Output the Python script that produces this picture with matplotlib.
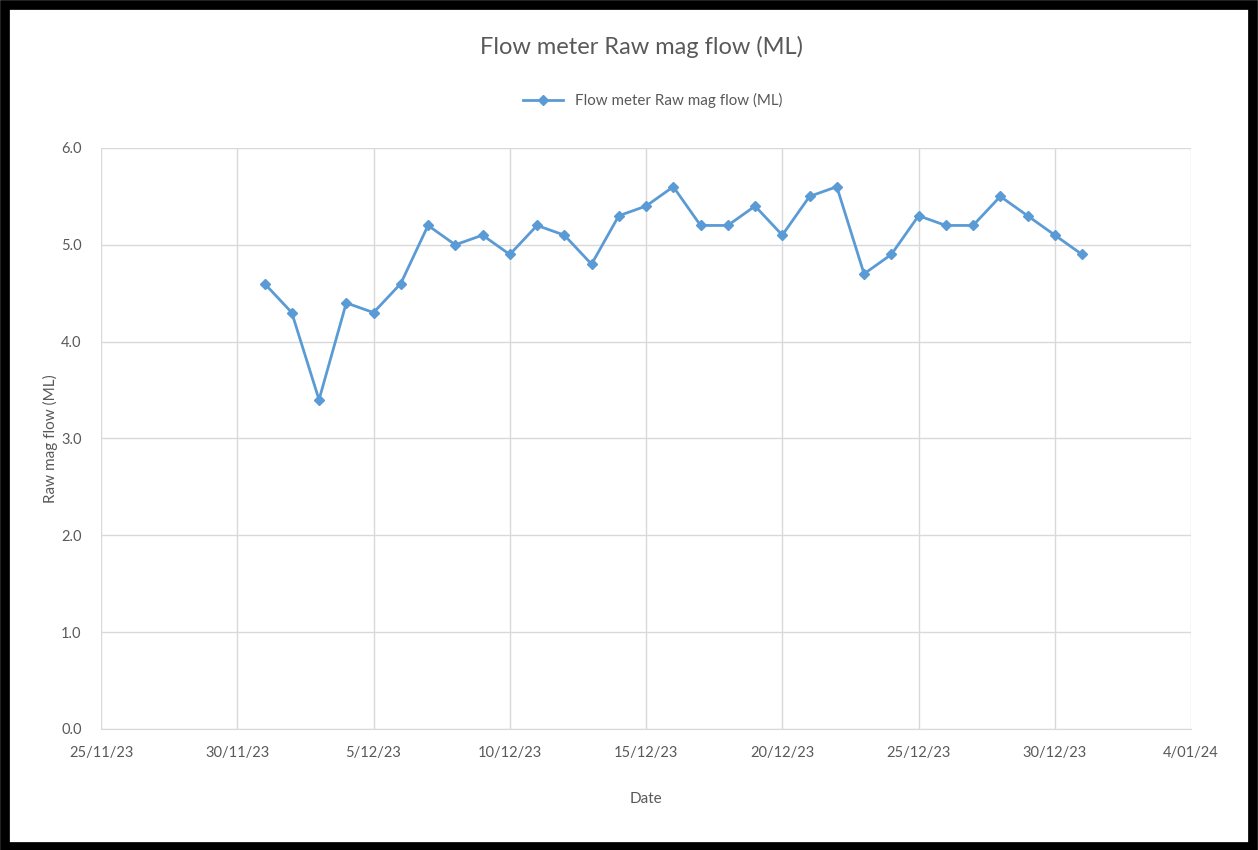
import numpy as np
import pandas as pd
import matplotlib.pyplot as plt
from matplotlib.patches import Rectangle

dates = pd.date_range("2023-12-01", "2023-12-31", freq="D")
flow = [4.6, 4.3, 3.4, 4.4, 4.3, 4.6, 5.2, 5.0, 5.1, 4.9,
        5.2, 5.1, 4.8, 5.3, 5.4, 5.6, 5.2, 5.2, 5.4, 5.1,
        5.5, 5.6, 4.7, 4.9, 5.3, 5.2, 5.2, 5.5, 5.3, 5.1, 4.9]
x_ticks = pd.date_range("2023-11-25", "2024-01-04", freq="5D")
y_ticks = [0.0, 1.0, 2.0, 3.0, 4.0, 5.0, 6.0]

blue = "#5B9BD5"
grey_txt = "#595959"
grid_c = "#D9D9D9"

plt.rcParams['font.family'] = ['Lato', 'DejaVu Sans']

def date_label(d):
	# excel style d/mm/yy for single digit days in january, d/m/yy otherwise
	if d.year == 2024:
		return f"{d.day}/{d.month:02d}/{d.strftime('%y')}"
	return f"{d.day}/{d.month}/{d.strftime('%y')}"

def main():
	fig = plt.figure(figsize=(12.58, 8.5), dpi=100)
	ax = fig.add_axes([0.0803, 0.1424, 0.8665, 0.6835])

	ax.plot(dates, flow, color=blue, lw=2, marker="D", ms=5.5,
		label="Flow meter Raw mag flow (ML)", zorder=3)

	ax.set_xlim(x_ticks[0], x_ticks[-1])
	ax.set_ylim(0, 6)
	ax.set_xticks(x_ticks)
	ax.set_xticklabels([date_label(d) for d in x_ticks])
	ax.set_yticks(y_ticks)
	ax.set_yticklabels([f"{v:.1f}" for v in y_ticks])

	ax.grid(True, color=grid_c, lw=1)
	ax.set_axisbelow(True)
	for s in ax.spines.values():
		s.set_visible(False)
	ax.spines['bottom'].set_visible(True)
	ax.spines['bottom'].set_color(grid_c)
	ax.tick_params(length=0, colors=grey_txt, labelsize=10.5)
	ax.tick_params(axis='x', pad=12)
	ax.tick_params(axis='y', pad=14)

	ax.set_xlabel("Date", color=grey_txt, fontsize=11, labelpad=23)
	ax.set_ylabel("Raw mag flow (ML)", color=grey_txt, fontsize=11, labelpad=2)

	fig.text(0.510, 0.945, "Flow meter Raw mag flow (ML)", ha="center", va="center",
		fontsize=17, color=grey_txt)
	fig.legend(loc="center", bbox_to_anchor=(0.519, 0.882), frameon=False,
		fontsize=10.9, labelcolor=grey_txt, handlelength=2.6)

	fig.patches.append(Rectangle((0.004, 0.004), 0.992, 0.99, transform=fig.transFigure,
		fill=False, edgecolor="black", lw=7))

	fig.savefig("out.png", dpi=100)

if __name__ == '__main__':
	main()
